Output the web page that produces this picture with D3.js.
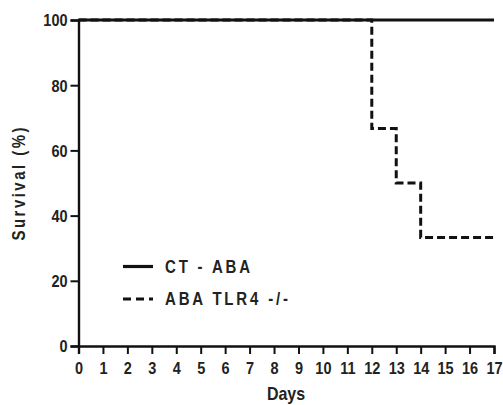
<!DOCTYPE html>
<html><head><meta charset="utf-8">
<script src="https://cdn.jsdelivr.net/npm/d3@7"></script>
<style>body{margin:0;background:#fff}svg{display:block}text{font-family:"Liberation Sans",Arial,sans-serif;fill:#222}</style>
</head><body><svg id="c" width="503" height="405"></svg>
<script>
const days = [0,1,2,3,4,5,6,7,8,9,10,11,12,13,14,15,16,17];
const yTicks = [0,20,40,60,80,100];
const seriesNames = ["CT - ABA","ABA TLR4 -/-"];
const ctDays = [0,17];
const ctSurvival = [100,100];
const koDays = [0,12,13,14,17];
const koSurvival = [100,66.7,50,33.3,33.3];

const svg = d3.select("#c");
const x = d3.scaleLinear().domain([0,17]).range([78.5,494]);
const y = d3.scaleLinear().domain([0,100]).range([346,20]);
const SY = 1.2;

function stretchY(sel){
  sel.each(function(){
    const t = d3.select(this);
    const ty = +t.attr("y") || 0;
    const tx = +t.attr("x") || 0;
    t.attr("x",0).attr("y",0).attr("transform",`translate(${tx},${ty}) scale(1,${SY})`);
  });
}

const yAxis = svg.append("g").attr("transform","translate(78.5,0)")
  .call(d3.axisLeft(y).tickValues(yTicks).tickSize(8).tickPadding(3));
const xAxis = svg.append("g").attr("transform","translate(0,346)")
  .call(d3.axisBottom(x).tickValues(days).tickSize(8).tickPadding(8));
[yAxis,xAxis].forEach(a=>{
  a.select(".domain").attr("stroke","#111").attr("stroke-width",2.4);
  a.selectAll(".tick line").attr("stroke","#111").attr("stroke-width",2);
  a.selectAll("text").attr("font-size",14.5).attr("font-weight","bold").attr("fill","#333");
});
stretchY(xAxis.selectAll(".tick text"));
yAxis.selectAll(".tick text").each(function(){
  const t = d3.select(this);
  const tx = +t.attr("x");
  t.attr("x",0).attr("dy",null).attr("dominant-baseline","central")
   .attr("transform",`translate(${tx},0) scale(1,${SY})`);
});

const step = d3.line().x(d=>x(d[0])).y(d=>y(d[1])).curve(d3.curveStepAfter);
svg.append("path").attr("d",step(ctDays.map((d,i)=>[d,ctSurvival[i]])))
  .attr("fill","none").attr("stroke","#111").attr("stroke-width",3);
svg.append("path").attr("d",step(koDays.map((d,i)=>[d,koSurvival[i]])))
  .attr("fill","none").attr("stroke","#111").attr("stroke-width",3)
  .attr("stroke-dasharray","8,4");

svg.append("text").attr("transform",`translate(286,400) scale(1,${SY})`).attr("text-anchor","middle")
  .attr("font-size",16).attr("font-weight","bold").attr("fill","#333").text("Days");
svg.append("text").attr("transform",`translate(25,184) rotate(-90) scale(1,${SY})`).attr("text-anchor","middle")
  .attr("font-size",15).attr("font-weight","bold").attr("fill","#333")
  .attr("textLength",113).attr("lengthAdjust","spacing").text("Survival (%)");

const leg = svg.append("g");
const legWidths = [85,123];
seriesNames.forEach((n,i)=>{
  const yy = 266.5 + i*32.5;
  leg.append("line").attr("x1",123).attr("x2",153).attr("y1",yy).attr("y2",yy)
    .attr("stroke","#111").attr("stroke-width",3.2).attr("stroke-dasharray", i ? "8,5" : null);
  leg.append("text").attr("transform",`translate(165,${yy+6}) scale(1,${SY})`).attr("font-size",15).attr("fill","#333")
    .attr("font-weight","bold").attr("textLength",legWidths[i]).attr("lengthAdjust","spacing").text(n);
});
</script></body></html>
